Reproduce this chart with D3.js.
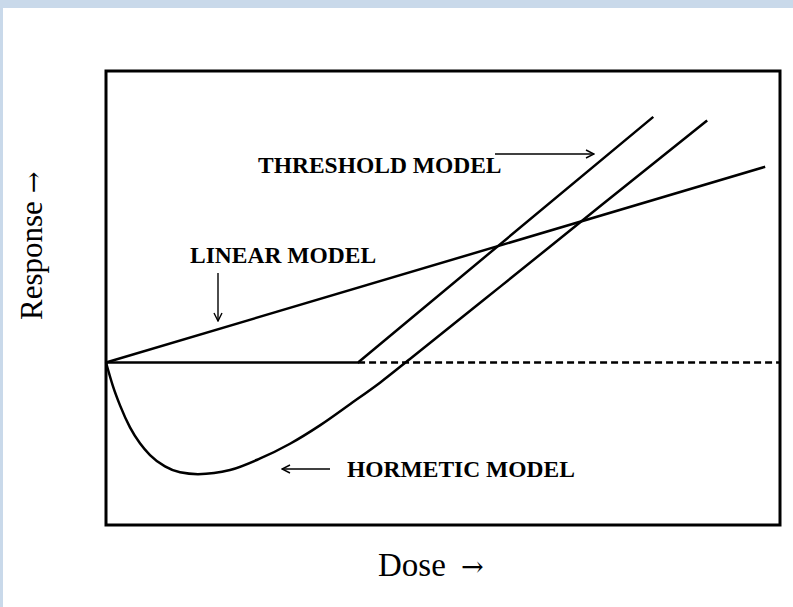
<!DOCTYPE html>
<html>
<head>
<meta charset="utf-8">
<script src="https://cdn.jsdelivr.net/npm/d3@7"></script>
<style>
  html, body { margin: 0; padding: 0; background: #fff; }
  #frame { position: absolute; left: 0; top: 0; width: 793px; height: 607px; }
</style>
</head>
<body>
<div id="frame"></div>
<script>
"use strict";
(function() {

const WIDTH = 793
const HEIGHT = 607

// plot box in px
const box = { left: 106, top: 71, right: 780, bottom: 525 }

const BORDER = "#c9d9ea"
const SERIF = "'Liberation Serif', 'Times New Roman', serif"

// dose / response in arbitrary units (0..100 on x, 0 = baseline on y)
const DOSE_DOMAIN = [0, 100]
const RESPONSE_DOMAIN = [-35.8, 64.2]

const linearDose = [0, 97.8]
const linearResp = [0, 43.1]

const thresholdDose = [0, 37.4, 81.2]
const thresholdResp = [0, 0, 54.1]

const hormeticDose = [0, 1.04, 2.08, 3.56, 5.04, 6.53, 8.75, 10.98, 13.65, 18.4, 22.8, 27.3, 31.8, 36.2, 40.7, 45.1, 58.5, 73.3, 89.2]
const hormeticResp = [0, -5.27, -9.45, -14.29, -17.8, -20.4, -22.9, -24.2, -24.6, -23.7, -21.2, -17.9, -13.8, -9.2, -4.4, 0.77, 16.7, 34.4, 53.3]

const baselineDose = [37.4, 100]

const labels = ["THRESHOLD MODEL", "LINEAR MODEL", "HORMETIC MODEL"]
const xLabel = "Dose"
const yLabel = "Response"
const ARROW = "\u2192"

let x_scale = d3.scaleLinear().domain(DOSE_DOMAIN).range([box.left, box.right])
let y_scale = d3.scaleLinear().domain(RESPONSE_DOMAIN).range([box.bottom, box.top])

let line = d3.line()
    .x(d => x_scale(d[0]))
    .y(d => y_scale(d[1]))

let svg = d3.select("#frame").append("svg")
    .attr("width", WIDTH)
    .attr("height", HEIGHT)

// light blue page edge
svg.append("rect").attr("x", 0).attr("y", 0).attr("width", WIDTH).attr("height", 8).attr("fill", BORDER)
svg.append("rect").attr("x", 0).attr("y", 0).attr("width", 3).attr("height", HEIGHT).attr("fill", BORDER)

// open arrow head
svg.append("defs").append("marker")
    .attr("id", "head")
    .attr("viewBox", "0 0 10 10")
    .attr("refX", 9).attr("refY", 5)
    .attr("markerWidth", 10).attr("markerHeight", 10)
    .attr("markerUnits", "userSpaceOnUse")
    .attr("orient", "auto")
  .append("path")
    .attr("d", "M1,1 L9,5 L1,9")
    .attr("fill", "none")
    .attr("stroke", "#000")
    .attr("stroke-width", 1.4)

// frame
svg.append("rect")
    .attr("x", box.left).attr("y", box.top)
    .attr("width", box.right - box.left)
    .attr("height", box.bottom - box.top)
    .attr("fill", "none")
    .attr("stroke", "#000")
    .attr("stroke-width", 3)

// dashed baseline
svg.append("path")
    .attr("d", line(d3.zip(baselineDose, [0, 0])))
    .attr("fill", "none")
    .attr("stroke", "#000")
    .attr("stroke-width", 2.5)
    .attr("stroke-dasharray", "7,4")

let curves = [
    { d: d3.zip(linearDose, linearResp), c: d3.curveLinear },
    { d: d3.zip(thresholdDose, thresholdResp), c: d3.curveLinear },
    { d: d3.zip(hormeticDose, hormeticResp), c: d3.curveMonotoneX }
]

curves.forEach(function(k) {
    svg.append("path")
        .attr("class", "curve")
        .attr("d", line.curve(k.c)(k.d))
        .attr("fill", "none")
        .attr("stroke", "#000")
        .attr("stroke-width", 2.5)
        .attr("stroke-linejoin", "round")
})

// model labels
let labelPos = [[258, 173], [190, 263], [347, 477]]
svg.selectAll("text.model")
    .data(labels)
    .join("text")
    .attr("class", "model")
    .attr("x", (d, i) => labelPos[i][0])
    .attr("y", (d, i) => labelPos[i][1])
    .style("font-family", SERIF)
    .style("font-weight", "bold")
    .style("font-size", "23.5px")
    .text(d => d)

// pointer arrows
let arrows = [[495, 154, 594, 154], [218, 273, 218, 321], [330, 469, 282, 469]]
svg.selectAll("line.pointer")
    .data(arrows)
    .join("line")
    .attr("class", "pointer")
    .attr("x1", d => d[0]).attr("y1", d => d[1])
    .attr("x2", d => d[2]).attr("y2", d => d[3])
    .attr("stroke", "#000")
    .attr("stroke-width", 1.4)
    .attr("marker-end", "url(#head)")

// axis titles
let xt = svg.append("text")
    .attr("x", 378).attr("y", 576)
    .style("font-family", SERIF)
    .style("font-size", "33px")
xt.append("tspan").text(xLabel)
xt.append("tspan")
    .attr("x", 461)
    .style("font-family", "'DejaVu Serif', serif")
    .style("font-size", "27px")
    .text(ARROW)

let yt = svg.append("text")
    .attr("transform", "translate(42, 320) rotate(-90)")
    .style("font-family", SERIF)
    .style("font-size", "31px")
yt.append("tspan").text(yLabel)
yt.append("tspan")
    .attr("dx", 8)
    .style("font-family", "'DejaVu Serif', serif")
    .style("font-size", "26px")
    .text(ARROW)

})();
</script>
</body>
</html>
